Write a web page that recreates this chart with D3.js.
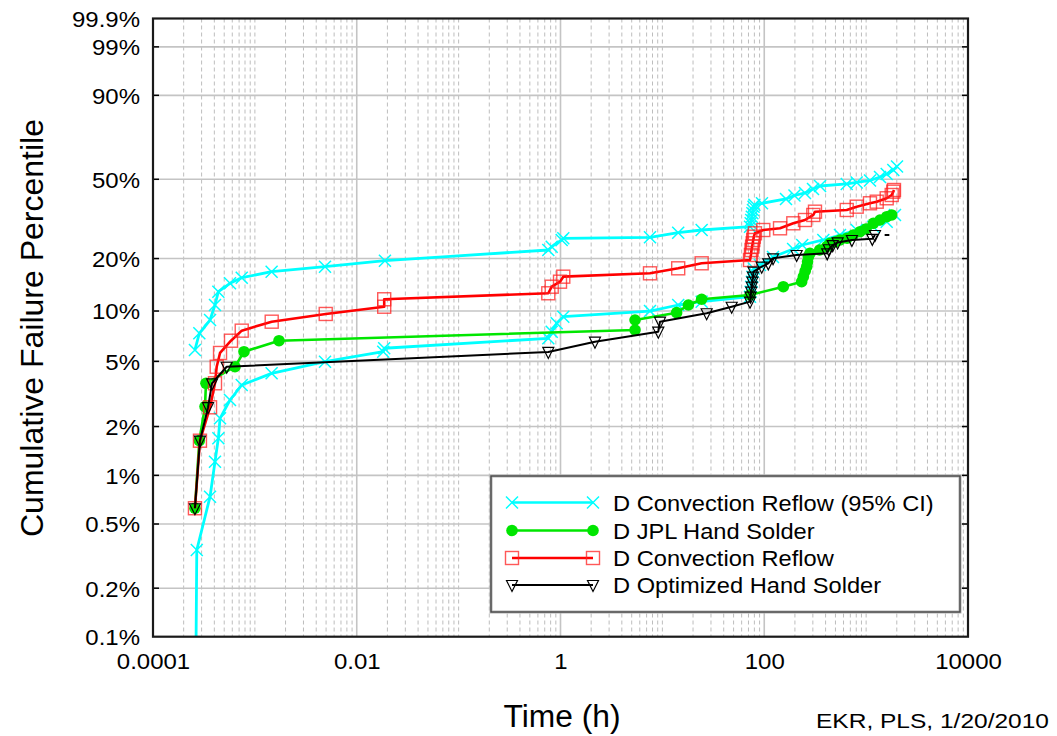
<!DOCTYPE html>
<html><head><meta charset="utf-8">
<script src="https://cdn.jsdelivr.net/npm/d3@7"></script>
<style>body{margin:0;background:#fff} text{font-family:"Liberation Sans",Arial,sans-serif;fill:#000}</style>
</head><body><svg id="c" width="1057" height="736"></svg>
<script>
// ---------- data ----------
const xTickValues = [1e-4, 1e-2, 1, 100, 1e4];
const xTickLabels = ["0.0001", "0.01", "1", "100", "10000"];
const yTickValues = [0.1, 0.2, 0.5, 1, 2, 5, 10, 20, 50, 90, 99, 99.9];
const yTickLabels = ["0.1%", "0.2%", "0.5%", "1%", "2%", "5%", "10%", "20%", "50%", "90%", "99%", "99.9%"];
const seriesNames = ["D Convection Reflow (95% CI)", "D JPL Hand Solder", "D Convection Reflow", "D Optimized Hand Solder"];

const cyanUpperTime = [0.000258,0.000285,0.000363,0.000406,0.000438,0.00057,0.000743,0.00146,0.00488,0.0189,0.759,0.82,1.027,1.065,7.56,14.3,24.3,72.5,73.5,74.5,75.5,76.5,77.5,78.5,80,95,163.5,198,251,301,353,645,808,1091,1369,1592,1848,2010];
const cyanUpperPct  = [5.86,7.38,8.85,10.85,12.97,14.5,15.61,16.88,18.01,19.46,22.29,23.23,25.25,25.78,26.1,27.6,28.51,29.67,30.89,32.11,33.37,34.71,36.04,37.41,38.2,38.85,40.73,42.29,43.44,45.31,46.73,47.7,48.43,49.41,51.15,52.66,54.7,56.5];

const cyanLowerTime = [0.000261,0.000269,0.000363,0.000406,0.000438,0.000455,0.00057,0.000743,0.00146,0.00488,0.0182,0.0186,0.759,0.82,0.918,1.065,7.56,14.3,24.3,72.5,73.5,74.5,75.5,76.5,77.5,79,90.8,121.8,192,236,380,554,808,1176,1592,1920];
const cyanLowerPct  = [0.03,0.345,0.738,1.215,1.693,2.246,2.909,3.592,4.231,4.976,5.72,6.0,6.886,7.542,8.462,9.259,10.0,10.85,11.35,12.13,12.97,13.86,14.81,15.82,16.88,17.6,18.42,20.4,22.57,23.73,25.25,26.84,28.51,29.67,31.48,34.04];

const jplTime = [0.000258,0.000285,0.000324,0.000331,0.000638,0.000782,0.001725,5.39,5.39,13.8,18.0,24.3,72.5,153.8,233,242,252,261,266,271,281,350,410,442,500,554,650,748,871,997,1176,1369,1592,1783];
const jplPct  = [0.626,1.64,2.65,3.68,4.64,5.72,6.66,7.72,8.85,9.78,10.85,11.72,12.41,13.86,14.81,15.82,17.0,18.01,19.2,20.48,21.38,22.3,23.23,24.24,24.7,25.25,25.8,26.84,27.94,28.87,30.89,32.11,33.37,34.04];

const convTime = [0.000258,0.000289,0.000363,0.000406,0.000422,0.000455,0.000583,0.000743,0.001463,0.00496,0.0186,0.0186,0.759,0.82,0.989,1.065,7.56,14.3,24.3,72.5,74,75,76,77,78,79,81,97.9,142.8,192.9,251.2,303,314.8,645,808,1091,1270,1592,1783,1848,1877];
const convPct  = [0.626,1.636,2.625,3.68,4.64,5.62,6.66,7.65,8.65,9.61,10.6,11.72,12.7,13.86,14.81,15.82,16.53,17.64,18.82,19.63,20.93,22.29,23.23,24.24,25.25,26.29,27.4,28.51,29.1,30.89,32.11,34.04,35.35,36.04,37.41,38.85,39.54,41.04,42.52,44.04,44.83];

const optTime = [0.000258,0.000289,0.000347,0.00038,0.000529,0.759,2.18,9.12,9.48,27.2,47.9,72.5,73.5,74.5,75.5,76.5,77.5,78.5,94.4,109.6,122,208,415,430,470,525,725,1150,1222];
const optPct  = [0.626,1.636,2.63,3.68,4.64,5.7,6.57,7.54,8.65,9.7,10.6,11.35,12.13,12.97,13.86,14.81,15.82,16.88,18.01,18.82,20.07,20.93,21.38,22.5,23.7,24.5,25.25,25.6,26.84];
const optTailTime = [1520, 1690];
const optTailPct  = [26.84, 26.84];

const creditText = "EKR, PLS, 1/20/2010";
const xTitle = "Time (h)";
const yTitle = "Cumulative Failure Percentile";

// ---------- layout ----------
const L = 153, R = 968, T = 18.5, B = 636.7;
const svg = d3.select("#c");
const weib = p => Math.log(-Math.log(1 - p / 100));
const x = d3.scaleLog().domain([1e-4, 1e4]).range([L, R]);
const yW = d3.scaleLinear().domain([weib(0.1), weib(99.9)]).range([B, T]);
const y = p => yW(weib(p));

function widen(sel, f) {
  sel.each(function () {
    const l = this.getComputedTextLength();
    this.setAttribute("textLength", l * f);
    this.setAttribute("lengthAdjust", "spacingAndGlyphs");
  });
}

// clip
svg.append("defs").append("clipPath").attr("id", "pc")
  .append("rect").attr("x", L).attr("y", T).attr("width", R - L).attr("height", B - T);

// grid
const grid = svg.append("g");
const vVals = [];
for (let d = -4; d <= 3; d++) for (let m = 1; m <= 9; m++) vVals.push(m * Math.pow(10, d));
const solidX = [1e-2, 1, 100];
vVals.filter(v => v > 1.0001e-4).forEach(v => {
  const solid = solidX.some(s => Math.abs(v / s - 1) < 1e-6);
  grid.append("line").attr("x1", x(v)).attr("x2", x(v)).attr("y1", T).attr("y2", B)
    .attr("stroke", solid ? "#c4c4c4" : "#bdbdbd")
    .attr("stroke-width", solid ? 1.6 : 1)
    .attr("stroke-dasharray", solid ? null : "4,3");
});
yTickValues.slice(1, -1).forEach(p => {
  grid.append("line").attr("x1", L).attr("x2", R).attr("y1", y(p)).attr("y2", y(p))
    .attr("stroke", "#c4c4c4").attr("stroke-width", 1.6);
});

// axes (d3 axes on the transformed scale)
const yAxis = d3.axisLeft(yW).tickValues(yTickValues.map(weib))
  .tickFormat((d, i) => yTickLabels[i]).tickSize(0).tickPadding(13);
const gy = svg.append("g").attr("transform", `translate(${L},0)`).call(yAxis);
gy.select(".domain").remove();
gy.selectAll("text").attr("font-size", 22).attr("font-family", '"Liberation Sans",Arial,sans-serif').attr("dy", "0.36em");
widen(gy.selectAll("text"), 1.09);

const xAxis = d3.axisBottom(x).tickValues(xTickValues)
  .tickFormat((d, i) => xTickLabels[i]).tickSize(0).tickPadding(17);
const gx = svg.append("g").attr("transform", `translate(0,${B})`).call(xAxis);
gx.select(".domain").remove();
gx.selectAll("text").attr("font-size", 22).attr("font-family", '"Liberation Sans",Arial,sans-serif');
widen(gx.selectAll("text"), 1.09);

// inward ticks left/right
yTickValues.slice(1, -1).forEach(p => {
  svg.append("line").attr("x1", L).attr("x2", L + 6).attr("y1", y(p)).attr("y2", y(p)).attr("stroke", "#000").attr("stroke-width", 1.5);
  svg.append("line").attr("x1", R - 6).attr("x2", R).attr("y1", y(p)).attr("y2", y(p)).attr("stroke", "#000").attr("stroke-width", 1.5);
});

// series
const plot = svg.append("g").attr("clip-path", "url(#pc)");
const line = d3.line().x(d => x(d[0])).y(d => y(d[1]));
const zip = (a, b) => a.map((v, i) => [v, b[i]]);

const cyanU = zip(cyanUpperTime, cyanUpperPct), cyanL = zip(cyanLowerTime, cyanLowerPct);
const jpl = zip(jplTime, jplPct), conv = zip(convTime, convPct), opt = zip(optTime, optPct);

const markers = {
  x: g => g.append("path").attr("d", "M-6,-6L6,6M-6,6L6,-6").attr("stroke", "#00ffff").attr("stroke-width", 1.5).attr("fill", "none"),
  dot: g => g.append("circle").attr("r", 5.8).attr("fill", "#00e600"),
  sq: g => g.append("rect").attr("x", -6.5).attr("y", -6.5).attr("width", 13).attr("height", 13).attr("fill", "none").attr("stroke", "#ff2020").attr("stroke-opacity", 0.75).attr("stroke-width", 1.4),
  tri: g => g.append("path").attr("d", "M-5.5,-4.5L5.5,-4.5L0,6.5Z").attr("fill", "none").attr("stroke", "#000").attr("stroke-width", 1.2)
};
function drawSeries(data, color, width, mk) {
  plot.append("path").datum(data).attr("d", line).attr("fill", "none")
    .attr("stroke", color).attr("stroke-width", width).attr("stroke-linejoin", "round");
  data.forEach(d => {
    const g = plot.append("g").attr("transform", `translate(${x(d[0])},${y(d[1])})`);
    markers[mk](g);
  });
}
drawSeries(cyanU, "#00ffff", 2.8, "x");
drawSeries(cyanL, "#00ffff", 2.8, "x");
drawSeries(jpl, "#00e600", 2.6, "dot");
drawSeries(conv, "#ff0000", 2.6, "sq");
drawSeries(opt, "#000000", 2, "tri");
plot.append("path").datum(zip(optTailTime, optTailPct)).attr("d", line).attr("stroke", "#000").attr("stroke-width", 2).attr("fill", "none");

// frame
svg.append("rect").attr("x", L).attr("y", T).attr("width", R - L).attr("height", B - T)
  .attr("fill", "none").attr("stroke", "#1a1a1a").attr("stroke-width", 2.2);

// legend
const lg = svg.append("g");
lg.append("rect").attr("x", 491).attr("y", 476).attr("width", 469).attr("height", 136)
  .attr("fill", "#fff").attr("stroke", "#b0b0b0").attr("stroke-width", 3);
lg.append("rect").attr("x", 491).attr("y", 476).attr("width", 469).attr("height", 136)
  .attr("fill", "none").attr("stroke", "#444").attr("stroke-width", 1.3);
const legRows = [502.5, 530.5, 558, 585];
const legColors = ["#00ffff", "#00e600", "#ff0000", "#000000"];
const legMk = ["x", "dot", "sq", "tri"];
seriesNames.forEach((name, i) => {
  const yy = legRows[i];
  lg.append("line").attr("x1", 512).attr("x2", 593).attr("y1", yy).attr("y2", yy)
    .attr("stroke", legColors[i]).attr("stroke-width", i === 3 ? 2 : 2.6);
  [512, 593].forEach(xx => markers[legMk[i]](lg.append("g").attr("transform", `translate(${xx},${yy})`)));
  lg.append("text").attr("x", 613).attr("y", yy + 8).attr("font-size", 21.5).text(name);
});
widen(lg.selectAll("text"), 1.1);

// titles
svg.append("text").attr("x", 562).attr("y", 727).attr("text-anchor", "middle").attr("font-size", 31)
  .attr("textLength", 117).attr("lengthAdjust", "spacingAndGlyphs").text(xTitle);
svg.append("text").attr("transform", "translate(43,328) rotate(-90)").attr("text-anchor", "middle")
  .attr("font-size", 31).attr("textLength", 418).attr("lengthAdjust", "spacingAndGlyphs").text(yTitle);
svg.append("text").attr("x", 816).attr("y", 728).attr("font-size", 21)
  .attr("textLength", 233).attr("lengthAdjust", "spacingAndGlyphs").text(creditText);
</script></body></html>
